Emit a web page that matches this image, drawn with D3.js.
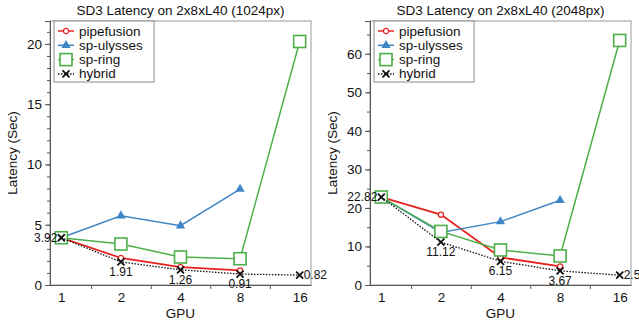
<!DOCTYPE html>
<html>
<head>
<meta charset="utf-8">
<script src="https://cdn.jsdelivr.net/npm/d3@7"></script>
<style>
  body { margin: 0; background: #fff; }
  svg { font-family: "Liberation Sans", Arial, sans-serif; }
</style>
</head>
<body>
<svg id="chart" width="639" height="323"></svg>
<script>
const gpus = [1, 2, 4, 8, 16];
const seriesNames = ['pipefusion', 'sp-ulysses', 'sp-ring', 'hybrid'];

// 1024px
const pipefusion1024 = [3.92, 2.24, 1.49, 1.21];
const ulysses1024 = [3.92, 5.75, 4.92, 7.96];
const ring1024 = [3.92, 3.40, 2.32, 2.18, 20.2];
const hybrid1024 = [3.92, 1.91, 1.26, 0.91, 0.82];

// 2048px
const pipefusion2048 = [22.82, 18.26, 7.17, 4.83];
const ulysses2048 = [22.82, 13.6, 16.44, 21.97];
const ring2048 = [22.82, 13.9, 9.09, 7.53, 63.45];
const hybrid2048 = [22.82, 11.12, 6.15, 3.67, 2.54];

const panels = [
    { title: 'SD3 Latency on 2x8xL40 (1024px)', left: 50, yMax: 21.9, major: 5, minor: 1,
      data: [pipefusion1024, ulysses1024, ring1024, hybrid1024] },
    { title: 'SD3 Latency on 2x8xL40 (2048px)', left: 370, yMax: 68.5, major: 10, minor: 5,
      data: [pipefusion2048, ulysses2048, ring2048, hybrid2048] },
];

const colors = ['#e8221e', '#3f86c6', '#4caf48', '#111'];
const plotTop = 21, plotBottom = 285, plotW = 261;

const svg = d3.select('#chart');

function drawMarker(sel, i) {
    if (i === 0) {
        sel.append('circle').attr('r', 2.6).attr('fill', '#fff')
            .attr('stroke', colors[0]).attr('stroke-width', 1.3);
    } else if (i === 1) {
        sel.append('path').attr('d', d3.symbol(d3.symbolTriangle, 38)())
            .attr('fill', colors[1]);
    } else if (i === 2) {
        sel.append('rect').attr('x', -6).attr('y', -6).attr('width', 12).attr('height', 12)
            .attr('fill', '#fff').attr('stroke', colors[2]).attr('stroke-width', 1.6);
    } else {
        sel.append('path').attr('d', 'M-3.5,-3.5L3.5,3.5M-3.5,3.5L3.5,-3.5')
            .attr('stroke', colors[3]).attr('stroke-width', 1.8).attr('fill', 'none');
    }
}

panels.forEach(p => {
    const g = svg.append('g');
    const x = d3.scaleLinear()
        .domain([-0.19, 4.19])
        .range([p.left, p.left + plotW]);
    const xg = v => x(Math.log2(v));
    const y = d3.scaleLinear().domain([0, p.yMax]).range([plotBottom, plotTop]);

    // frame
    g.append('rect')
        .attr('x', p.left).attr('y', plotTop)
        .attr('width', plotW).attr('height', plotBottom - plotTop)
        .attr('fill', 'none').attr('stroke', '#999').attr('stroke-width', 1);

    // y axis
    const yAxis = g.append('g').attr('transform', `translate(${p.left},0)`)
        .call(d3.axisLeft(y).tickValues(d3.range(0, p.yMax, p.major))
            .tickSize(5).tickPadding(3).tickFormat(d3.format('d')));
    const yMinor = g.append('g').attr('transform', `translate(${p.left},0)`)
        .call(d3.axisLeft(y).tickValues(d3.range(0, p.yMax, p.minor)).tickSize(3).tickFormat(''));
    yMinor.select('.domain').remove();

    // x axis
    const xAxis = g.append('g').attr('transform', `translate(0,${plotBottom})`)
        .call(d3.axisBottom(x).tickValues([0, 1, 2, 3, 4]).tickSize(0).tickPadding(7)
            .tickFormat(d => gpus[d]));
    const xMinor = g.append('g').attr('transform', `translate(0,${plotBottom})`)
        .call(d3.axisBottom(x).tickValues([0.5, 1.5, 2.5, 3.5]).tickSize(4).tickFormat(''));
    xMinor.select('.domain').remove();

    [yAxis, yMinor, xAxis, xMinor].forEach(a => {
        a.selectAll('path,line').attr('stroke', '#555');
        a.selectAll('text').attr('font-size', 13.5).attr('fill', '#111')
            .attr('font-family', '"Liberation Sans", Arial, sans-serif');
    });

    // titles
    g.append('text').attr('x', p.left + plotW / 2).attr('y', 15)
        .attr('text-anchor', 'middle').attr('font-size', 13.5).attr('fill', '#111')
        .text(p.title);
    g.append('text').attr('x', p.left + plotW / 2).attr('y', 318)
        .attr('text-anchor', 'middle').attr('font-size', 13.5).attr('fill', '#111')
        .text('GPU');
    g.append('text')
        .attr('transform', `translate(${p.left - 33},${(plotTop + plotBottom) / 2}) rotate(-90)`)
        .attr('text-anchor', 'middle').attr('font-size', 13.5).attr('fill', '#111')
        .text('Latency (Sec)');

    // series
    p.data.forEach((vals, i) => {
        const pts = vals.map((v, k) => [gpus[k], v]);
        const line = d3.line().x(d => xg(d[0])).y(d => y(d[1]));
        const path = g.append('path').datum(pts)
            .attr('d', line).attr('fill', 'none')
            .attr('stroke', colors[i])
            .attr('stroke-width', i === 0 ? 1.8 : (i === 3 ? 1.3 : 1.5));
        if (i === 3) path.attr('stroke-dasharray', '1.5,1.5');
        pts.forEach(d => {
            const m = g.append('g').attr('transform', `translate(${xg(d[0])},${y(d[1])})`);
            drawMarker(m, i);
        });
    });

    // hybrid value labels
    const hyb = p.data[3];
    hyb.forEach((v, k) => {
        const px = xg(gpus[k]), py = y(v);
        const t = g.append('text').attr('font-size', 12).attr('fill', '#111')
            .text(v.toFixed(2));
        if (k === 0) {
            t.attr('x', px - 4).attr('y', py + 4).attr('text-anchor', 'end');
        } else if (k === hyb.length - 1) {
            t.attr('x', px + 4).attr('y', py + 4).attr('text-anchor', 'start');
        } else {
            t.attr('x', px).attr('y', py + 14).attr('text-anchor', 'middle');
        }
    });

    // legend
    const lg = g.append('g').attr('transform', `translate(${p.left + 4},21)`);
    lg.append('rect').attr('width', 100).attr('height', 61)
        .attr('fill', '#fff').attr('stroke', '#888').attr('stroke-width', 1);
    seriesNames.forEach((name, i) => {
        const row = lg.append('g').attr('transform', `translate(0,${10 + i * 14.3})`);
        const l = row.append('line').attr('x1', 4).attr('x2', 20)
            .attr('stroke', colors[i]).attr('stroke-width', 1.5);
        if (i === 3) l.attr('stroke-dasharray', '1.5,1.5');
        drawMarker(row.append('g').attr('transform', 'translate(12,0)'), i);
        row.append('text').attr('x', 25).attr('y', 4.5)
            .attr('font-size', 13.5).attr('fill', '#111').text(name);
    });
});
</script>
</body>
</html>
